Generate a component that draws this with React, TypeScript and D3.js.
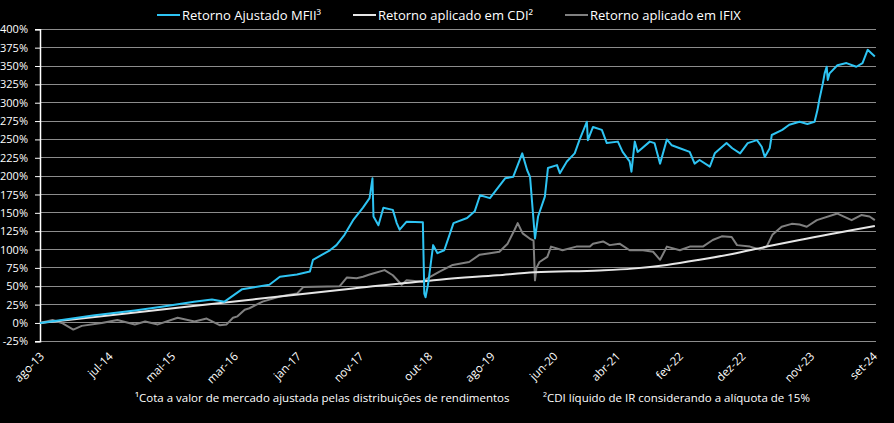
import * as d3 from "d3";
import { useEffect, useRef } from "react";

// tick labels on the x axis (Portuguese month abbreviations)
const tickDates = [
  "2013-08-01", "2014-07-01", "2015-05-01", "2016-03-01", "2017-01-01",
  "2017-11-01", "2018-10-01", "2019-08-01", "2020-06-01", "2021-04-01",
  "2022-02-01", "2022-12-01", "2023-11-01", "2024-09-01",
];
const tickLabels = [
  "ago-13", "jul-14", "mai-15", "mar-16", "jan-17", "nov-17", "out-18",
  "ago-19", "jun-20", "abr-21", "fev-22", "dez-22", "nov-23", "set-24",
];
const yTicks = [-25, 0, 25, 50, 75, 100, 125, 150, 175, 200, 225, 250, 275, 300, 325, 350, 375, 400];

// Retorno Ajustado MFII (%)
const mfiiDates = [
  "2013-08-01", "2013-11-15", "2014-04-15", "2014-11-05", "2015-03-15", "2015-08-20",
  "2015-11-15", "2016-01-15", "2016-04-10", "2016-08-20", "2016-10-10", "2017-01-01",
  "2017-03-05", "2017-03-20", "2017-06-10", "2017-07-12", "2017-08-20", "2017-10-01",
  "2017-11-18", "2017-12-20", "2018-01-03", "2018-01-08", "2018-02-01", "2018-02-25",
  "2018-04-12", "2018-05-01", "2018-05-15", "2018-06-18", "2018-09-05", "2018-09-12",
  "2018-09-18", "2018-10-01", "2018-10-25", "2018-11-15", "2018-12-18", "2019-01-15",
  "2019-02-01", "2019-04-08", "2019-05-15", "2019-06-10", "2019-07-28", "2019-10-10",
  "2019-11-18", "2020-01-01", "2020-01-25", "2020-02-08", "2020-03-03", "2020-03-18",
  "2020-04-20", "2020-05-05", "2020-06-18", "2020-07-02", "2020-08-05", "2020-09-12",
  "2020-10-05", "2020-11-10", "2020-11-15", "2020-12-10", "2021-01-22", "2021-02-15",
  "2021-04-10", "2021-05-03", "2021-06-06", "2021-06-15", "2021-07-01", "2021-07-15",
  "2021-09-12", "2021-10-05", "2021-11-01", "2021-12-04", "2021-12-28", "2022-02-05",
  "2022-03-25", "2022-04-18", "2022-05-12", "2022-07-01", "2022-07-25", "2022-09-20",
  "2022-10-18", "2022-11-25", "2023-01-01", "2023-02-15", "2023-03-10", "2023-03-25",
  "2023-04-18", "2023-04-28", "2023-06-18", "2023-07-22", "2023-09-10", "2023-10-18",
  "2023-11-22", "2023-12-06", "2023-12-15", "2024-01-01", "2024-01-10", "2024-01-20",
  "2024-01-25", "2024-02-03", "2024-03-12", "2024-04-25", "2024-06-12", "2024-07-12",
  "2024-08-06", "2024-09-10",
];
const mfiiValues = [
  0, 4, 10, 17, 22, 29,
  32, 29, 46, 52, 63, 66,
  70, 86, 99, 106, 120, 140,
  157, 170, 197, 145, 133, 157,
  154, 136, 127, 138, 137, 40,
  35, 54, 106, 95, 99, 122,
  136, 143, 152, 174, 170, 197,
  199, 231, 208, 199, 115, 145,
  172, 211, 215, 204, 220, 231,
  249, 274, 249, 267, 263, 245,
  247, 233, 220, 206, 247, 233,
  247, 245, 217, 250, 242, 238,
  233, 217, 222, 213, 231, 245,
  238, 231, 245, 249, 240, 226,
  238, 256, 263, 270, 274, 271,
  274, 290, 304, 326, 340, 349,
  331, 340, 351, 354, 349, 354,
  372, 363,
];

// Retorno aplicado em CDI (%)
const cdiDates = [
  "2013-08-01", "2015-01-01", "2016-06-01", "2017-10-01", "2018-11-25", "2019-09-01",
  "2020-03-01", "2021-01-12", "2021-06-20", "2021-12-04", "2022-05-12", "2022-10-18",
  "2023-04-03", "2023-09-10", "2024-09-10",
];
const cdiValues = [0, 16, 32, 47, 59, 65, 69, 71.5, 74, 79, 86, 94, 104, 113, 132];

// Retorno aplicado em IFIX (%)
const ifixDates = [
  "2013-08-01", "2013-10-01", "2013-11-15", "2014-01-10", "2014-02-20", "2014-05-28",
  "2014-08-12", "2014-11-05", "2014-12-25", "2015-02-25", "2015-06-01", "2015-08-22",
  "2015-10-20", "2015-12-22", "2016-01-25", "2016-02-25", "2016-03-18", "2016-04-22",
  "2016-05-15", "2016-07-18", "2016-10-10", "2017-01-01", "2017-02-01", "2017-07-28",
  "2017-09-01", "2017-10-18", "2017-11-18", "2017-12-20", "2018-03-03", "2018-04-12",
  "2018-05-25", "2018-06-18", "2018-09-03", "2018-10-06", "2018-11-25", "2019-01-28",
  "2019-04-18", "2019-06-08", "2019-07-28", "2019-09-12", "2019-10-22", "2019-11-25",
  "2019-12-10", "2020-01-03", "2020-02-06", "2020-02-25", "2020-03-03", "2020-03-10",
  "2020-03-25", "2020-05-02", "2020-05-20", "2020-07-15", "2020-09-20", "2020-11-25",
  "2020-12-10", "2021-01-28", "2021-03-01", "2021-04-18", "2021-06-06", "2021-08-10",
  "2021-09-28", "2021-11-01", "2021-12-04", "2022-02-05", "2022-03-25", "2022-05-28",
  "2022-07-15", "2022-08-28", "2022-10-15", "2022-11-10", "2023-01-12", "2023-03-01",
  "2023-04-03", "2023-05-01", "2023-06-15", "2023-08-03", "2023-09-10", "2023-10-15",
  "2023-12-03", "2024-03-12", "2024-05-20", "2024-07-06", "2024-08-15", "2024-09-10",
];
const ifixValues = [
  0, 4, 0, -9, -4, 0,
  4, -2, 2, -2, 7, 2,
  6, -3, -2, 7, 9, 18,
  20, 29, 36, 40, 49, 50,
  62, 61, 63, 66, 72, 65,
  52, 58, 56, 62, 70, 79,
  83, 93, 95, 97, 108, 127,
  136, 122, 115, 112, 58, 75,
  83, 90, 104, 99, 104, 104,
  108, 111, 106, 108, 99, 99,
  97, 86, 104, 99, 104, 104,
  113, 118, 117, 106, 104, 100,
  104, 120, 131, 135, 134, 131,
  140, 149, 140, 147, 145, 140,
];

const legendItems = [
  { label: "Retorno Ajustado MFII³", color: "#2ec4f3", x: 157 },
  { label: "Retorno aplicado em CDI²", color: "#e6e6e6", x: 353 },
  { label: "Retorno aplicado em IFIX", color: "#808080", x: 565 },
];

const WIDTH = 894;
const HEIGHT = 423;
const FONT = "'Open Sans', sans-serif";

type Pt = { date: Date; value: number };

const App = () => {
  const svgRef = useRef<SVGSVGElement | null>(null);

  useEffect(() => {
    document.body.style.margin = "0";
    document.body.style.background = "#000";

    const parse = d3.timeParse("%Y-%m-%d");
    const toPts = (ds: string[], vs: number[]): Pt[] =>
      ds.map((d, i) => ({ date: parse(d)!, value: vs[i] }));

    const svg = d3.select(svgRef.current);
    svg.selectAll("*").remove();
    svg.attr("width", WIDTH).attr("height", HEIGHT);

    svg.append("rect").attr("width", WIDTH).attr("height", HEIGHT).attr("fill", "#000");

    const x = d3
      .scaleTime()
      .domain([parse("2013-08-01")!, parse("2024-09-01")!])
      .range([40, 873]);
    const y = d3.scaleLinear().domain([-25, 400]).range([341.3, 29.3]);

    // gridlines
    svg
      .append("g")
      .selectAll("line")
      .data(yTicks)
      .enter()
      .append("line")
      .attr("x1", 40)
      .attr("x2", 876)
      .attr("y1", (d) => y(d))
      .attr("y2", (d) => y(d))
      .attr("stroke", "#8c8c8c")
      .attr("stroke-width", 1)
      .attr("shape-rendering", "crispEdges");

    // y axis
    const yAxis = svg
      .append("g")
      .attr("transform", "translate(40,0)")
      .call(
        d3
          .axisLeft(y)
          .tickValues(yTicks)
          .tickSize(5)
          .tickPadding(7)
          .tickFormat((d) => `${d}%`)
      );
    yAxis.select(".domain").attr("stroke", "#fff").attr("stroke-width", 1.5);
    yAxis.selectAll(".tick line").attr("stroke", "#fff");
    yAxis
      .selectAll(".tick text")
      .attr("fill", "#fff")
      .style("font-family", FONT)
      .style("font-size", "11px");

    // x labels
    svg
      .append("g")
      .selectAll("text")
      .data(tickDates)
      .enter()
      .append("text")
      .attr("transform", (d) => `translate(${x(parse(d)!) + 5},${357}) rotate(-45)`)
      .attr("text-anchor", "end")
      .attr("fill", "#fff")
      .style("font-family", FONT)
      .style("font-size", "11.5px")
      .text((_, i) => tickLabels[i]);

    const line = d3
      .line<Pt>()
      .x((d) => x(d.date))
      .y((d) => y(d.value));

    svg
      .append("path")
      .datum(toPts(ifixDates, ifixValues))
      .attr("d", line)
      .attr("fill", "none")
      .attr("stroke", "#808080")
      .attr("stroke-width", 2)
      .attr("stroke-linejoin", "round");

    svg
      .append("path")
      .datum(toPts(cdiDates, cdiValues))
      .attr("d", line.curve(d3.curveMonotoneX))
      .attr("fill", "none")
      .attr("stroke", "#e6e6e6")
      .attr("stroke-width", 2);

    svg
      .append("path")
      .datum(toPts(mfiiDates, mfiiValues))
      .attr("d", line.curve(d3.curveLinear))
      .attr("fill", "none")
      .attr("stroke", "#2ec4f3")
      .attr("stroke-width", 2)
      .attr("stroke-linejoin", "round");

    // legend
    const lg = svg.append("g");
    legendItems.forEach((it) => {
      lg.append("line")
        .attr("x1", it.x)
        .attr("x2", it.x + 23)
        .attr("y1", 15)
        .attr("y2", 15)
        .attr("stroke", it.color)
        .attr("stroke-width", 2);
      lg.append("text")
        .attr("x", it.x + 25)
        .attr("y", 19.5)
        .attr("fill", "#fff")
        .style("font-family", FONT)
        .style("font-size", "13px")
        .text(it.label);
    });

    // footnotes
    svg
      .append("text")
      .attr("x", 135)
      .attr("y", 402)
      .attr("fill", "#fff")
      .style("font-family", FONT)
      .style("font-size", "11.5px")
      .text("¹Cota a valor de mercado ajustada pelas distribuições de rendimentos");
    svg
      .append("text")
      .attr("x", 543)
      .attr("y", 402)
      .attr("fill", "#fff")
      .style("font-family", FONT)
      .style("font-size", "11.5px")
      .text("²CDI líquido de IR considerando a alíquota de 15%");
  }, []);

  return (
    <div style={{ position: "fixed", left: 0, top: 0, width: WIDTH, height: HEIGHT, background: "#000" }}>
      <svg ref={svgRef} style={{ display: "block" }} />
    </div>
  );
};

export default App;
